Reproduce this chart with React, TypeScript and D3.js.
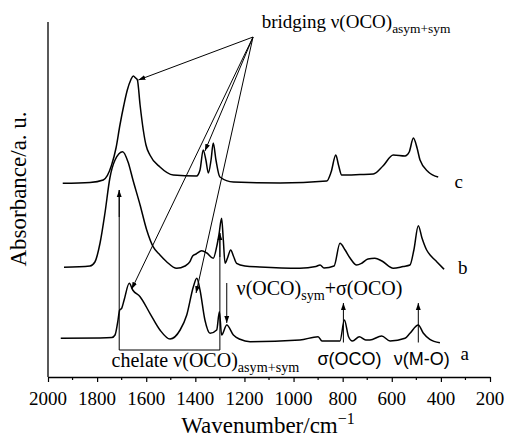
import React, { useEffect, useRef } from "react";
import * as d3 from "d3";

// wavenumber (cm-1) / absorbance (a.u., offset per trace)
const waveA = [1948, 1788, 1740, 1727, 1716, 1708, 1700, 1690, 1669, 1655, 1625, 1585, 1544, 1503, 1462, 1435, 1408, 1394, 1381, 1361, 1340, 1313, 1302, 1293, 1272, 1245, 1218, 1177, 974, 900, 884, 811, 793, 776, 760, 732, 706, 689, 641, 607, 546, 526, 492, 472, 445, 404];
const absA = [0.387, 0.39, 0.395, 0.42, 0.55, 0.67, 0.687, 0.77, 0.937, 0.87, 0.803, 0.637, 0.47, 0.38, 0.47, 0.62, 0.903, 0.987, 0.87, 0.57, 0.437, 0.47, 0.653, 0.42, 0.52, 0.42, 0.377, 0.353, 0.37, 0.403, 0.36, 0.36, 0.57, 0.403, 0.36, 0.403, 0.37, 0.37, 0.41, 0.36, 0.387, 0.437, 0.52, 0.44, 0.377, 0.343];

const waveB = [1935, 1829, 1809, 1788, 1768, 1748, 1727, 1696, 1674, 1654, 1625, 1598, 1572, 1544, 1517, 1476, 1442, 1422, 1411, 1397, 1374, 1353, 1327, 1313, 1304, 1293, 1286, 1279, 1269, 1256, 1245, 1232, 1198, 1137, 974, 909, 892, 876, 835, 811, 790, 770, 743, 721, 697, 669, 640, 594, 554, 526, 510, 492, 477, 458, 440, 417, 387];
const absB = [1.097, 1.11, 1.15, 1.34, 1.64, 1.99, 2.17, 2.253, 2.15, 1.97, 1.72, 1.47, 1.303, 1.22, 1.153, 1.087, 1.11, 1.153, 1.21, 1.23, 1.263, 1.24, 1.187, 1.303, 1.42, 1.587, 1.37, 1.137, 1.19, 1.27, 1.21, 1.137, 1.11, 1.1, 1.087, 1.105, 1.12, 1.09, 1.11, 1.337, 1.27, 1.19, 1.12, 1.14, 1.18, 1.187, 1.16, 1.087, 1.105, 1.12, 1.27, 1.513, 1.39, 1.27, 1.21, 1.153, 1.077];

const waveC = [1940, 1829, 1775, 1741, 1723, 1707, 1691, 1677, 1663, 1653, 1643, 1636, 1625, 1612, 1601, 1585, 1544, 1490, 1395, 1381, 1368, 1357, 1347, 1336, 1327, 1316, 1300, 1245, 1055, 865, 847, 828, 817, 804, 729, 675, 636, 594, 546, 529, 512, 497, 485, 451, 411];
const absC = [1.937, 1.945, 1.97, 2.12, 2.29, 2.52, 2.72, 2.87, 2.97, 3.01, 2.99, 2.97, 2.72, 2.47, 2.32, 2.22, 2.1, 2.02, 2.01, 2.07, 2.27, 2.17, 2.04, 2.17, 2.34, 2.17, 2.0, 1.95, 1.94, 1.96, 2.05, 2.22, 2.12, 2.02, 2.025, 2.03, 2.11, 2.22, 2.21, 2.25, 2.39, 2.29, 2.17, 2.05, 2.0];

const traceNames = ["a", "b", "c"];
const xTicks = [2000, 1800, 1600, 1400, 1200, 1000, 800, 600, 400, 200];

// bridging hub and the peaks it points at
const bridgeHub = [1165, 3.4];
const bridgeTargets = [
  [1632, 2.97],
  [1361, 2.26],
  [1659, 0.88],
  [1397, 0.84],
];

const W = 506;
const H = 446;
const SERIF = "Liberation Serif";
const SANS = "Liberation Sans";
const BASE = 24; // draw text at this size and scale the group down

const App: React.FC = () => {
  const svgRef = useRef<SVGSVGElement>(null);

  useEffect(() => {
    const x = d3.scaleLinear().domain([2000, 200]).range([48, 490]);
    const y = d3.scaleLinear().domain([0, 3.55]).range([377, 22]);

    const svg = d3.select(svgRef.current);
    svg.selectAll("*").remove();

    // parts: [text, dy (inner units), font-size (inner units)]
    const label = (
      px: number,
      py: number,
      size: number,
      parts: [string, number, number][],
      family = SERIF,
      anchor = "start"
    ) => {
      const k = size / BASE;
      const t = svg
        .append("g")
        .attr("transform", `translate(${px},${py}) scale(${k})`)
        .append("text")
        .attr("text-anchor", anchor)
        .attr("font-family", family)
        .attr("font-size", BASE);
      parts.forEach(([s, dy, fs]) => {
        t.append("tspan").attr("dy", dy).attr("font-size", fs).text(s);
      });
      return t;
    };

    const defs = svg.append("defs");
    defs
      .append("marker")
      .attr("id", "arr")
      .attr("viewBox", "0 0 10 10")
      .attr("refX", 10)
      .attr("refY", 5)
      .attr("markerWidth", 7)
      .attr("markerHeight", 7)
      .attr("markerUnits", "userSpaceOnUse")
      .attr("orient", "auto")
      .append("path")
      .attr("d", "M0,1.5L10,5L0,8.5Z")
      .attr("fill", "#000");

    // axes
    svg
      .append("line")
      .attr("x1", x(2000))
      .attr("x2", x(2000))
      .attr("y1", 22)
      .attr("y2", y(0))
      .attr("stroke", "#000")
      .attr("stroke-width", 1.3);

    const xAxis = svg
      .append("g")
      .attr("transform", `translate(0,${y(0)})`)
      .call(
        d3
          .axisBottom(x)
          .tickValues(xTicks)
          .tickSize(5)
          .tickSizeOuter(0)
          .tickFormat(() => "")
      );
    xAxis.select(".domain").attr("stroke-width", 1.3);
    xAxis.selectAll(".tick line").attr("stroke-width", 1.2);

    xTicks.forEach((t) => {
      label(x(t), y(0) + 28, 19, [[String(t), 0, BASE]], SERIF, "middle");
    });

    svg
      .append("g")
      .attr("transform", `translate(0,${y(0)})`)
      .selectAll("line")
      .data(d3.range(1900, 200, -200))
      .enter()
      .append("line")
      .attr("x1", (d) => x(d))
      .attr("x2", (d) => x(d))
      .attr("y1", 0)
      .attr("y2", 3)
      .attr("stroke", "#000")
      .attr("stroke-width", 1.2);

    const xl = svg
      .append("text")
      .attr("x", 268)
      .attr("y", 433)
      .attr("text-anchor", "middle")
      .attr("font-family", SERIF)
      .attr("font-size", 23);
    xl.append("tspan").text("Wavenumber/cm");
    xl.append("tspan").attr("dy", -9).attr("font-size", 16).text("\u22121");

    svg
      .append("text")
      .attr("transform", "translate(26,189) rotate(-90)")
      .attr("text-anchor", "middle")
      .attr("font-family", SERIF)
      .attr("font-size", 23)
      .text("Absorbance/a. u.");

    // spectra
    const line = d3
      .line<[number, number]>()
      .x((d) => x(d[0]))
      .y((d) => y(d[1]))
      .curve(d3.curveMonotoneX);

    const traces = [
      d3.zip(waveA, absA).reverse(),
      d3.zip(waveB, absB).reverse(),
      d3.zip(waveC, absC).reverse(),
    ] as [number, number][][];

    svg
      .append("g")
      .selectAll("path")
      .data(traces)
      .enter()
      .append("path")
      .attr("d", (d) => line(d))
      .attr("fill", "none")
      .attr("stroke", "#000")
      .attr("stroke-width", 1.5)
      .attr("stroke-linejoin", "round");

    const labelPos = [
      [320, 0.17],
      [330, 1.03],
      [345, 1.89],
    ];
    traceNames.forEach((n, i) => {
      label(x(labelPos[i][0]), y(labelPos[i][1]), 19, [[n, 0, BASE]]);
    });

    const ann = svg.append("g").attr("stroke", "#000").attr("stroke-width", 1);

    // bridging lines
    ann
      .selectAll("line.bridge")
      .data(bridgeTargets)
      .enter()
      .append("line")
      .attr("class", "bridge")
      .attr("x1", x(bridgeHub[0]))
      .attr("y1", y(bridgeHub[1]))
      .attr("x2", (d) => x(d[0]))
      .attr("y2", (d) => y(d[1]))
      .attr("marker-end", "url(#arr)");

    label(x(1130), y(3.49), 19, [
      ["bridging \u03bd(OCO)", 0, BASE],
      ["asym+sym", 6, 17],
    ]);

    // chelate bracket
    ann
      .append("path")
      .attr("fill", "none")
      .attr("d", `M${x(1710)},${y(1.87)}V${y(0.27)}H${x(1300)}V${y(1.44)}`);
    ann
      .append("line")
      .attr("x1", x(1710))
      .attr("x2", x(1710))
      .attr("y1", y(1.6))
      .attr("y2", y(1.87))
      .attr("marker-end", "url(#arr)");
    ann
      .append("line")
      .attr("x1", x(1300))
      .attr("x2", x(1300))
      .attr("y1", y(1.2))
      .attr("y2", y(1.44))
      .attr("marker-end", "url(#arr)");

    label(x(1741), y(0.1), 20, [
      ["chelate \u03bd(OCO)", 0, BASE],
      ["asym+sym", 6, 17],
    ]);

    // nu sym + sigma
    ann
      .append("line")
      .attr("x1", x(1272))
      .attr("x2", x(1272))
      .attr("y1", y(0.94))
      .attr("y2", y(0.54))
      .attr("marker-end", "url(#arr)");
    label(x(1232), y(0.82), 20, [
      ["\u03bd(OCO)", 0, BASE],
      ["sym", 6, 17],
      ["+\u03c3(OCO)", -6, BASE],
    ]);

    // sigma(OCO) and nu(M-O)
    const lower = [
      { w: 797, tw: 772, text: "\u03c3(OCO)" },
      { w: 492, tw: 478, text: "\u03bd(M-O)" },
    ];
    lower.forEach((l) => {
      ann
        .append("line")
        .attr("x1", x(l.w))
        .attr("x2", x(l.w))
        .attr("y1", y(0.345))
        .attr("y2", y(0.74))
        .attr("marker-end", "url(#arr)");
      label(x(l.tw), y(0.12), 18, [[l.text, 0, BASE]], SANS, "middle");
    });

    return () => {
      svg.selectAll("*").remove();
    };
  }, []);

  return (
    <svg
      ref={svgRef}
      width={W}
      height={H}
      style={{ position: "absolute", left: 0, top: 0, background: "#fff" }}
    />
  );
};

export default App;
